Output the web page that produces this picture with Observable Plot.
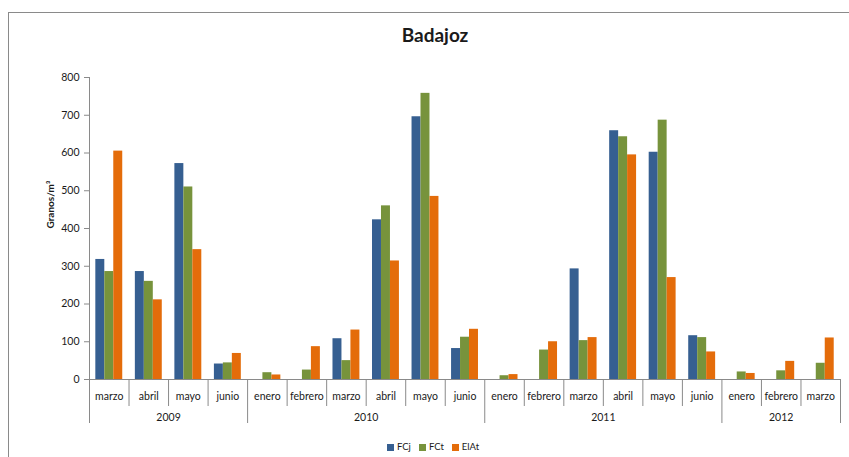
<!DOCTYPE html>
<html>
<head>
<meta charset="utf-8">
<script src="https://cdn.jsdelivr.net/npm/d3@7"></script>
<script src="https://cdn.jsdelivr.net/npm/@observablehq/plot@0.6"></script>
<style>
  html, body { margin: 0; padding: 0; background: #fff; overflow: hidden; width: 849px; height: 457px; }
  body { position: relative; font-family: Lato, "Open Sans", sans-serif; color: #1a1a1a; }
  #frame { position: absolute; left: 8px; top: 12px; width: 900px; height: 500px; border-left: 1px solid #8a8a8a; border-top: 1px solid #8a8a8a; }
  #title { position: absolute; left: 335px; width: 200px; top: 23px; text-align: center; font-size: 19px; font-weight: bold; line-height: 24px; }
  #chart { position: absolute; left: 0; top: 50px; }
  #legend { position: absolute; top: 441px; left: 0; width: 866px; text-align: center; font-size: 9.5px; line-height: 12px; }
  #legend span.item { margin: 0 4px; white-space: nowrap; }
  #legend span.sw { display: inline-block; width: 7px; height: 7px; margin-right: 3px; vertical-align: -0.5px; }
</style>
</head>
<body>
<div id="frame"></div>
<div id="title">Badajoz</div>
<div id="chart"></div>
<div id="legend"></div>
<script>
// ---- data ----
const months = ["marzo","abril","mayo","junio",
                "enero","febrero","marzo","abril","mayo","junio",
                "enero","febrero","marzo","abril","mayo","junio",
                "enero","febrero","marzo"];
const years  = ["2009","2009","2009","2009",
                "2010","2010","2010","2010","2010","2010",
                "2011","2011","2011","2011","2011","2011",
                "2012","2012","2012"];
const seriesNames = ["FCj","FCt","ElAt"];
const FCj  = [318, 286, 572, 41, null, null, 108, 423, 696, 82, null, null, 293, 659, 602, 116, null, null, null];
const FCt  = [286, 260, 510, 44, 18, 25, 50, 460, 758, 112, 10, 78, 103, 643, 687, 111, 20, 23, 43];
const ElAt = [605, 211, 344, 69, 12, 87, 131, 314, 485, 133, 13, 100, 111, 595, 270, 73, 16, 48, 110];
const yTicks = [0, 100, 200, 300, 400, 500, 600, 700, 800];
const colors = ["#365f91", "#77933c", "#e46c0a"];
const yLabel = "Granos/m³";

// ---- derived tables ----
const seriesValues = [FCj, FCt, ElAt];
const bars = [];
months.forEach((m, i) => {
  seriesValues.forEach((vals, j) => {
    if (vals[i] != null) bars.push({i, j, series: seriesNames[j], value: vals[i]});
  });
});
const monthCells = months.map((m, i) => ({i, month: m}));
const yearSpans = [];
years.forEach((y, i) => {
  const last = yearSpans[yearSpans.length - 1];
  if (last && last.year === y) last.end = i + 1;
  else yearSpans.push({year: y, start: i, end: i + 1});
});
const monthBounds = d3.range(1, months.length).filter(k => years[k] === years[k - 1]);
const yearBounds = [0, ...yearSpans.map(s => s.end)];

const groupPad = 0.16, barW = 0.227;

const marks = [
  Plot.rectY(bars, {
    x1: d => d.i + groupPad + d.j * barW,
    x2: d => d.i + groupPad + (d.j + 1) * barW,
    y: "value",
    fill: "series"
  }),
  Plot.ruleY([0], {stroke: "#8a8a8a"}),
  Plot.ruleX([0], {stroke: "#8a8a8a"}),
  Plot.ruleX(monthBounds, {x: d => d, y1: 0, y2: 0, insetBottom: -27, stroke: "#8a8a8a"}),
  Plot.ruleX(yearBounds, {x: d => d, y1: 0, y2: 0, insetBottom: -44, stroke: "#8a8a8a"}),
  Plot.text(monthCells, {x: d => d.i + 0.5, y: 0, dy: 17, text: "month", fontSize: 10.5, fill: "#1a1a1a"}),
  Plot.text(yearSpans, {x: d => (d.start + d.end) / 2, y: 0, dy: 38, text: "year", fontSize: 10.5, fill: "#1a1a1a"}),
  Plot.text([yLabel], {frameAnchor: "left", text: d => d, rotate: -90, dx: -39, fontSize: 10, fontWeight: "bold", fill: "#1a1a1a"})
];
if (Plot.axisY) {
  marks.push(Plot.axisY({ticks: yTicks, tickSize: 5, tickPadding: 5, stroke: "#8a8a8a", fill: "#1a1a1a", fontSize: 10.5, label: null}));
}

const chart = Plot.plot({
  width: 849,
  height: 385,
  marginTop: 27,
  marginBottom: 56,
  marginLeft: 89,
  marginRight: 9,
  style: {fontFamily: "Lato, 'Open Sans', sans-serif", fontSize: "10.5px", background: "transparent", overflow: "visible"},
  x: {domain: [0, months.length], axis: null},
  y: {domain: [0, 800], ticks: yTicks, tickSize: 5, tickPadding: 5, label: null, axis: Plot.axisY ? null : "left"},
  color: {domain: seriesNames, range: colors},
  marks
});
document.getElementById("chart").appendChild(chart);

// legend
const legend = document.getElementById("legend");
seriesNames.forEach((s, j) => {
  const item = document.createElement("span");
  item.className = "item";
  const sw = document.createElement("span");
  sw.className = "sw";
  sw.style.background = colors[j];
  item.appendChild(sw);
  item.appendChild(document.createTextNode(s));
  legend.appendChild(item);
});
</script>
</body>
</html>
